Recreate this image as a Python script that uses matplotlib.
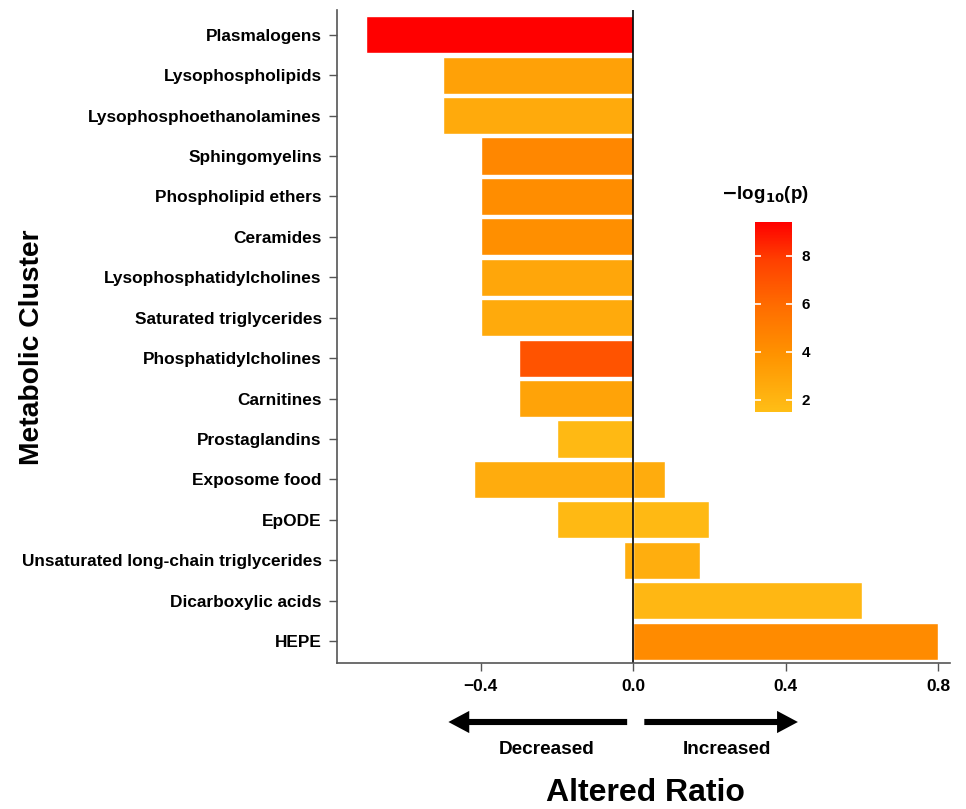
import numpy as np
import matplotlib
matplotlib.use("Agg")
import matplotlib.pyplot as plt
from matplotlib.colors import LinearSegmentedColormap, Normalize

plt.rcParams['font.family'] = ['Liberation Sans', 'DejaVu Sans']
plt.rcParams['font.weight'] = 'bold'

clusters = ["Plasmalogens", "Lysophospholipids", "Lysophosphoethanolamines",
            "Sphingomyelins", "Phospholipid ethers", "Ceramides",
            "Lysophosphatidylcholines", "Saturated triglycerides",
            "Phosphatidylcholines", "Carnitines", "Prostaglandins",
            "Exposome food", "EpODE", "Unsaturated long-chain triglycerides",
            "Dicarboxylic acids", "HEPE"]
decreased = [-0.70, -0.50, -0.50, -0.40, -0.40, -0.40, -0.40, -0.40,
             -0.30, -0.30, -0.20, -0.417, -0.20, -0.025, 0, 0]
increased = [0, 0, 0, 0, 0, 0, 0, 0, 0, 0, 0, 0.083, 0.20, 0.175, 0.60, 0.80]
logp_dec = [9.4, 3.1, 2.6, 4.5, 4.2, 4.1, 2.8, 2.6, 7.0, 3.0, 1.8, 2.5, 1.8, 2.4, 0, 0]
logp_inc = [0, 0, 0, 0, 0, 0, 0, 0, 0, 0, 0, 2.5, 1.8, 2.4, 1.9, 4.3]

cmap = LinearSegmentedColormap.from_list(
    "pv", [(0, '#FFBE16'), (0.3, '#FF9300'), (0.55, '#FF6E00'), (0.8, '#FF4000'), (1, '#FF0000')])
norm = Normalize(1.5, 9.4)

fig = plt.figure(figsize=(9.66, 8.09), dpi=100)
ax = fig.add_axes([0.349, 0.180, 0.634, 0.808])

y = np.arange(len(clusters))
for i in range(len(clusters)):
    if decreased[i] != 0:
        ax.barh(y[i], decreased[i], height=0.92, color=cmap(norm(logp_dec[i])),
                edgecolor='white', linewidth=1)
    if increased[i] != 0:
        ax.barh(y[i], increased[i], height=0.92, color=cmap(norm(logp_inc[i])),
                edgecolor='white', linewidth=1)

ax.axvline(0, color='black', lw=1.2)
ax.set_ylim(len(clusters) - 0.45, -0.62)
ax.set_xlim(-0.777, 0.83)
ax.set_yticks(y)
ax.set_yticklabels(clusters, fontsize=12.4, fontweight='bold')
ax.set_xticks([-0.4, 0.0, 0.4, 0.8])
ax.set_xticklabels(['\u22120.4', '0.0', '0.4', '0.8'], fontsize=12.5, fontweight='bold')
ax.tick_params(axis='both', length=6, width=1, color='#555555', pad=5)
for s in ['top', 'right']:
    ax.spines[s].set_visible(False)
for s in ['left', 'bottom']:
    ax.spines[s].set_color('#555555')
    ax.spines[s].set_linewidth(1.2)

fig.text(0.033, 0.571, 'Metabolic Cluster', rotation=90, fontsize=20.3,
         fontweight='bold', ha='center', va='center')
fig.text(0.668, 0.020, 'Altered Ratio', fontsize=23, fontweight='bold',
         ha='center', va='center')

# direction arrows
arrow_y = 1 - 722 / 809
ap = dict(arrowstyle='simple,head_length=0.75,head_width=0.8,tail_width=0.22',
          color='black', lw=0, shrinkA=0, shrinkB=0, mutation_scale=20)
ax.annotate('', xy=(-0.485, arrow_y), xytext=(-0.016, arrow_y),
            xycoords=('data', 'figure fraction'), arrowprops=ap, annotation_clip=False)
ax.annotate('', xy=(0.432, arrow_y), xytext=(0.029, arrow_y),
            xycoords=('data', 'figure fraction'), arrowprops=ap, annotation_clip=False)
ax.annotate('Decreased', xy=(-0.228, 1 - 750 / 809), xycoords=('data', 'figure fraction'),
            ha='center', va='center', fontsize=13.7, fontweight='bold', annotation_clip=False)
ax.annotate('Increased', xy=(0.246, 1 - 750 / 809), xycoords=('data', 'figure fraction'),
            ha='center', va='center', fontsize=13.7, fontweight='bold', annotation_clip=False)

# colour bar
cax = fig.add_axes([0.7816, 0.4907, 0.0383, 0.2349])
sm = plt.cm.ScalarMappable(norm=norm, cmap=cmap)
cb = fig.colorbar(sm, cax=cax, ticks=[2, 4, 6, 8])
cb.outline.set_visible(False)
cax.tick_params(axis='y', which='both', direction='in', left=True, right=True,
                color='white', labelcolor='black', length=4, width=1.2, labelsize=11, pad=7)
for t in cax.get_yticklabels():
    t.set_fontweight('bold')
fig.text(0.792, 0.759, r'$\mathbf{-}$log$_{\mathbf{10}}$(p)', fontsize=13.5,
         fontweight='bold', ha='center', va='center')

fig.savefig('out.png', dpi=100)
